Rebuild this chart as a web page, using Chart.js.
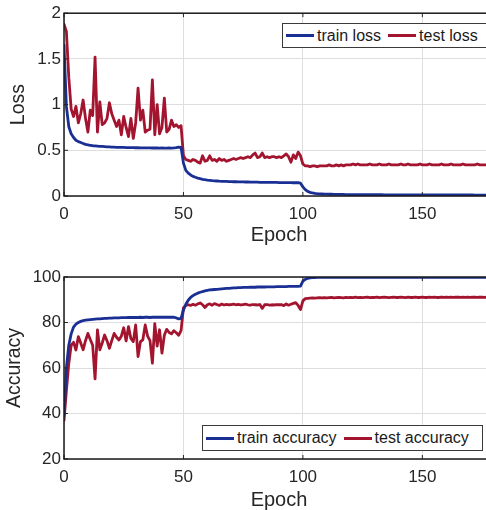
<!DOCTYPE html>
<html><head><meta charset="utf-8">
<script src="https://cdn.jsdelivr.net/npm/chart.js@4.4.1/dist/chart.umd.min.js"></script>
<style>
html,body{margin:0;padding:0;background:#fff;overflow:hidden;width:486px;height:510px;position:relative;}
canvas{position:absolute;left:0;}
.legend{position:absolute;background:#fff;border:1px solid #3a3a3a;display:flex;align-items:center;font:16px "Liberation Sans",Arial,sans-serif;color:#1a1a1a;white-space:nowrap;box-sizing:border-box;padding-left:3px;z-index:5;}
.legend .sw{display:inline-block;width:28px;height:3px;margin-right:3px;}
.legend .item{display:flex;align-items:center;}
.legend .item + .item{margin-left:7px;}
</style>
</head><body>
<canvas id="c1" width="500" height="255" style="top:0"></canvas>
<canvas id="c2" width="500" height="270" style="top:250px"></canvas>
<div id="lg1" class="legend" style="left:282px;top:23px;width:212px;height:25px;"></div>
<div id="lg2" class="legend" style="left:202px;top:425px;width:281px;height:26px;"></div>
<script>
const epochs = [0,1,2,3,4,5,6,7,8,9,10,11,12,13,14,15,16,17,18,19,20,21,22,23,24,25,26,27,28,29,30,31,32,33,34,35,36,37,38,39,40,41,42,43,44,45,46,47,48,49,50,51,52,53,54,55,56,57,58,59,60,61,62,63,64,65,66,67,68,69,70,71,72,73,74,75,76,77,78,79,80,81,82,83,84,85,86,87,88,89,90,91,92,93,94,95,96,97,98,99,100,101,102,103,104,105,106,107,108,109,110,111,112,113,114,115,116,117,118,119,120,121,122,123,124,125,126,127,128,129,130,131,132,133,134,135,136,137,138,139,140,141,142,143,144,145,146,147,148,149,150,151,152,153,154,155,156,157,158,159,160,161,162,163,164,165,166,167,168,169,170,171,172,173,174,175,176,177,178,179,180];

const trainLoss = [1.65,0.98,0.76,0.68,0.64,0.61,0.595,0.585,0.575,0.565,
0.56,0.555,0.55,0.548,0.546,0.544,0.542,0.54,0.538,0.537,
0.535,0.534,0.533,0.532,0.532,0.531,0.53,0.53,0.529,0.529,
0.528,0.528,0.527,0.527,0.527,0.526,0.526,0.525,0.525,0.525,
0.524,0.525,0.524,0.524,0.525,0.524,0.526,0.53,0.535,0.532,
0.36,0.28,0.25,0.23,0.215,0.205,0.196,0.189,0.183,0.178,
0.174,0.171,0.168,0.166,0.164,0.162,0.161,0.16,0.159,0.158,
0.157,0.156,0.156,0.155,0.154,0.154,0.153,0.153,0.152,0.152,
0.151,0.151,0.15,0.15,0.15,0.149,0.149,0.148,0.148,0.148,
0.147,0.147,0.147,0.146,0.146,0.146,0.145,0.145,0.145,0.14,
0.1,0.07,0.05,0.04,0.033,0.028,0.025,0.023,0.022,0.021,
0.02,0.019,0.019,0.018,0.018,0.017,0.017,0.017,0.016,0.016,
0.016,0.016,0.015,0.015,0.015,0.015,0.015,0.014,0.014,0.014,
0.014,0.014,0.014,0.014,0.013,0.013,0.013,0.013,0.013,0.013,
0.013,0.013,0.013,0.013,0.012,0.012,0.012,0.012,0.012,0.012,
0.012,0.012,0.012,0.012,0.012,0.012,0.011,0.011,0.011,0.011,
0.011,0.011,0.011,0.011,0.011,0.011,0.011,0.011,0.011,0.011,
0.011,0.011,0.01,0.01,0.01,0.01,0.01,0.01,0.01,0.01,0.01];

const testLoss = [1.88,1.8,1.3,0.95,0.87,0.98,0.8,0.9,1.05,0.85,
0.7,0.94,0.88,1.52,0.7,1.03,0.78,0.8,0.85,1.02,
0.9,0.83,0.76,0.83,0.67,0.87,0.75,0.65,0.85,0.63,
0.8,1.18,0.83,0.94,0.7,0.72,0.73,1.27,0.67,1.0,
0.68,0.75,1.07,0.7,0.73,0.83,0.76,0.78,0.75,0.77,
0.44,0.4,0.39,0.38,0.4,0.39,0.37,0.36,0.44,0.38,
0.39,0.44,0.39,0.4,0.38,0.41,0.39,0.4,0.38,0.39,
0.4,0.41,0.4,0.41,0.42,0.41,0.42,0.43,0.42,0.45,
0.47,0.42,0.43,0.47,0.42,0.43,0.42,0.43,0.43,0.42,
0.43,0.42,0.44,0.46,0.43,0.37,0.45,0.41,0.48,0.44,
0.35,0.33,0.33,0.32,0.33,0.33,0.32,0.33,0.33,0.33,
0.33,0.34,0.33,0.33,0.34,0.33,0.34,0.33,0.34,0.34,
0.34,0.35,0.34,0.35,0.34,0.34,0.34,0.34,0.35,0.34,
0.34,0.34,0.35,0.34,0.34,0.34,0.35,0.34,0.34,0.34,
0.34,0.35,0.34,0.34,0.35,0.34,0.34,0.34,0.34,0.35,
0.34,0.34,0.34,0.35,0.34,0.34,0.34,0.34,0.35,0.34,
0.34,0.34,0.35,0.34,0.34,0.34,0.34,0.35,0.34,0.34,
0.34,0.34,0.34,0.35,0.34,0.34,0.34,0.34,0.35,0.34,0.34];

const trainAcc = [39,60,70,75,78,79.3,80,80.5,80.8,81,
81.2,81.3,81.4,81.5,81.6,81.6,81.7,81.8,81.8,81.9,
81.9,82,82,82,82.1,82.1,82.1,82.2,82.2,82.2,
82.2,82.2,82.3,82.2,82.3,82.3,82.2,82.3,82.3,82.3,
82.4,82.3,82.3,82.4,82.3,82.4,82.3,82.0,81.6,81.8,
85.5,88,89.8,91,91.8,92.4,92.9,93.3,93.6,93.9,
94.1,94.3,94.4,94.5,94.6,94.7,94.8,94.9,95,95,
95.1,95.2,95.2,95.3,95.3,95.4,95.4,95.4,95.5,95.5,
95.5,95.6,95.6,95.6,95.6,95.7,95.7,95.7,95.7,95.8,
95.8,95.8,95.8,95.8,95.9,95.9,95.9,95.9,95.9,96,
98.2,99,99.4,99.6,99.7,99.75,99.8,99.8,99.85,99.85,
99.85,99.85,99.9,99.9,99.9,99.9,99.9,99.9,99.9,99.9,
99.9,99.9,99.9,99.9,99.9,99.9,99.9,99.9,99.9,99.9,
99.9,99.9,99.9,99.9,99.9,99.9,99.9,99.9,99.9,99.9,
99.9,99.9,99.9,99.9,99.9,99.9,99.9,99.9,99.9,99.9,
99.9,99.9,99.9,99.9,99.9,99.9,99.9,99.9,99.9,99.9,
99.9,99.9,99.9,99.9,99.9,99.9,99.9,99.9,99.9,99.9,
99.9,99.9,99.9,99.9,99.9,99.9,99.9,99.9,99.9,99.9,99.9];

const testAcc = [37,50,62,70,71.3,67.9,73.8,71,68,72,
75.2,72.5,70,55.2,76.7,68,71,74.5,72,68.6,
72,75.2,73.5,72.3,74,77.7,71.9,78.2,73,71.6,
78.9,65,71.6,72.4,78.9,74,72,62.1,79.5,69.6,
76.8,66.5,74.4,77,75.6,75,76.4,75.5,74.4,76.4,
86.5,87.5,87.8,87.5,88,87.6,88.2,88.6,87.8,86.6,
87.8,88.2,87.6,88.3,87.9,87.5,88.1,87.7,88,87.8,
87.9,88.1,87.8,88,87.7,87.9,88.1,87.8,87.6,87.9,
87.8,87.7,87.9,86.2,87.8,87.9,87.6,87.8,87.7,87.9,
87.8,87.9,87.4,88.2,87.6,88,88.4,88.7,87.5,85.7,
89.5,90.5,90.6,90.7,90.8,90.7,90.8,90.9,90.8,90.9,
90.8,90.9,91,90.8,90.9,91,90.9,90.8,91,90.9,
91,90.9,91.1,90.9,91,90.9,91,91.1,90.9,91,
91,91.1,90.9,91,91.1,91,90.9,91,91.1,91,
91,91.1,91,90.9,91.1,91,91,91.1,91,91,
91.1,91,91,91.1,91,91.1,91,91,91.2,91,
91.1,91,91.1,91,91.1,91.2,91,91.1,91,91.1,
91,91.1,91.1,91,91.2,91.1,91,91.1,91.1,91,91.1];

const xTicks = [0,50,100,150];
const lossTicks = [0,0.5,1,1.5,2];
const accTicks = [20,40,60,80,100];

const BLUE = '#1a2f94';
const RED = '#a3142f';
const TXT = '#262626';
const FONT = '"Liberation Sans", Arial, Helvetica, sans-serif';

const framePlugin = {
  id: 'frame',
  afterDraw(chart) {
    const {ctx, chartArea: a, scales} = chart;
    ctx.save();
    ctx.strokeStyle = TXT;
    ctx.lineWidth = 1;
    const L = 4;
    ctx.beginPath();
    scales.x.ticks.forEach(t => {
      const px = scales.x.getPixelForValue(t.value);
      ctx.moveTo(px, a.bottom); ctx.lineTo(px, a.bottom - L);
      ctx.moveTo(px, a.top); ctx.lineTo(px, a.top + L);
    });
    scales.y.ticks.forEach(t => {
      const py = scales.y.getPixelForValue(t.value);
      ctx.moveTo(a.left, py); ctx.lineTo(a.left + L, py);
      ctx.moveTo(a.right, py); ctx.lineTo(a.right - L, py);
    });
    ctx.stroke();
    ctx.strokeStyle = '#1a1a1a';
    ctx.lineWidth = 1.5;
    ctx.strokeRect(a.left, a.top, a.right - a.left, a.bottom - a.top);
    ctx.restore();
  }
};

function makeChart(id, ds, yTicks, yTitle, padTop, xHeight, yTitlePad) {
  return new Chart(document.getElementById(id), {
    type: 'line',
    data: { labels: epochs, datasets: ds },
    options: {
      responsive: false,
      animation: false,
      devicePixelRatio: 1,
      layout: { padding: { top: padTop, right: 6, left: 0, bottom: 0 } },
      plugins: { legend: { display: false }, tooltip: { enabled: false } },
      elements: { point: { radius: 0 }, line: { borderWidth: 2.8, tension: 0, borderJoinStyle: 'round', borderCapStyle: 'round' } },
      scales: {
        x: {
          type: 'linear', min: 0, max: 180,
          afterBuildTicks(s) { s.ticks = xTicks.map(v => ({ value: v })); },
          afterFit(s) { s.height = xHeight; },
          grid: { color: '#dedede', lineWidth: 1, drawTicks: false },
          border: { display: false },
          ticks: { padding: 8, color: TXT, font: { family: FONT, size: 17 }, maxRotation: 0, callback: v => String(v) },
          title: { display: true, text: 'Epoch', color: TXT, font: { family: FONT, size: 20 }, padding: { top: 0, bottom: 7.4 } }
        },
        y: {
          type: 'linear', min: yTicks[0], max: yTicks[yTicks.length - 1],
          afterBuildTicks(s) { s.ticks = yTicks.map(v => ({ value: v })); },
          afterFit(s) { s.width = 64; },
          grid: { color: '#dedede', lineWidth: 1, drawTicks: false },
          border: { display: false },
          ticks: { padding: 3, color: TXT, font: { family: FONT, size: 17 }, callback: v => String(v) },
          title: { display: true, text: yTitle, color: TXT, font: { family: FONT, size: 19.5 }, padding: { top: yTitlePad, bottom: 0 } }
        }
      }
    },
    plugins: [framePlugin]
  });
}

const ch1 = makeChart('c1', [
  { label: 'train loss', data: trainLoss, borderColor: BLUE, backgroundColor: BLUE },
  { label: 'test loss', data: testLoss, borderColor: RED, backgroundColor: RED }
], lossTicks, 'Loss', 13, 59, 7);

const ch2 = makeChart('c2', [
  { label: 'train accuracy', data: trainAcc, borderColor: BLUE, backgroundColor: BLUE },
  { label: 'test accuracy', data: testAcc, borderColor: RED, backgroundColor: RED }
], accTicks, 'Accuracy', 27, 61, 3);

function buildLegend(chart, el) {
  chart.data.datasets.forEach(d => {
    const it = document.createElement('span');
    it.className = 'item';
    const sw = document.createElement('span');
    sw.className = 'sw';
    sw.style.background = d.borderColor;
    const tx = document.createElement('span');
    tx.textContent = d.label;
    it.appendChild(sw); it.appendChild(tx);
    el.appendChild(it);
  });
}
buildLegend(ch1, document.getElementById('lg1'));
buildLegend(ch2, document.getElementById('lg2'));
</script>
</body></html>
